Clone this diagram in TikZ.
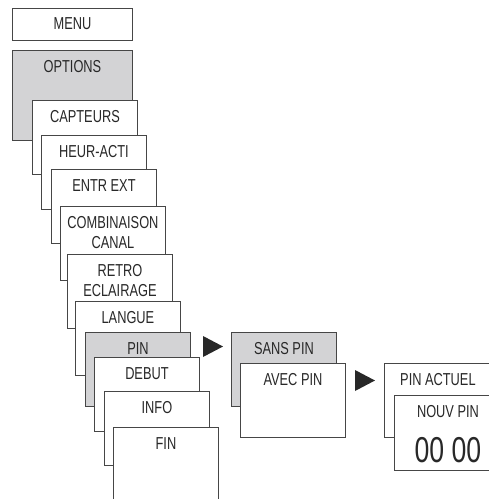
\documentclass[tikz,border=0pt]{standalone}
\usepackage{fontspec}
\setmainfont{Liberation Sans}[FakeStretch=0.74]
\usepackage{tikz}

\definecolor{menugray}{RGB}{211,211,213}
\definecolor{menuline}{RGB}{70,70,70}
\definecolor{menutext}{RGB}{40,40,40}

\begin{document}
\begin{tikzpicture}[
    x=1pt, y=-1pt,
    menubox/.style={draw=menuline, line width=0.9pt, fill=white, anchor=north west,
        minimum width=105pt, minimum height=74pt, inner sep=0pt},
    selbox/.style={menubox, fill=menugray},
    caption/.style={anchor=north, inner sep=0pt, yshift=-10.5pt, align=center,
        text=menutext, font=\fontsize{17.3}{20}\selectfont},
    bigdigits/.style={anchor=north, inner sep=0pt, yshift=-42pt,
        text=menutext, font=\fontsize{36}{40}\selectfont}
]
    \useasboundingbox (0,0) rectangle (489,499);
    \clip (0,0) rectangle (489,499);

    % main menu stack
    \node[menubox, minimum width=120pt, minimum height=32pt,
        label={[caption, yshift=1pt]north:MENU}] (menu) at (12,8) {};
    \node[selbox, minimum width=120pt, minimum height=90pt,
        label={[caption]north:OPTIONS}] (options) at (12,50) {};
    \node[menubox, label={[caption]north:CAPTEURS}] (capteurs) at (32,100) {};
    \node[menubox, label={[caption]north:HEUR-ACTI}] (heuracti) at (41,135) {};
    \node[menubox, label={[caption]north:ENTR EXT}] (entrext) at (51,169) {};
    \node[menubox, label={[caption]north:COMBINAISON\\CANAL}] (combi) at (60,206) {};
    \node[menubox, label={[caption]north:RETRO\\ECLAIRAGE}] (retro) at (67,254) {};
    \node[menubox, label={[caption]north:LANGUE}] (langue) at (75,301) {};
    \node[selbox, label={[caption]north:PIN}] (pin) at (85,332) {};
    \node[menubox, label={[caption]north:DEBUT}] (debut) at (94,357) {};
    \node[menubox, label={[caption]north:INFO}] (info) at (104,391) {};
    \node[menubox, minimum height=110pt, label={[caption]north:FIN}] (fin) at (113,427) {};

    % PIN submenu
    \fill[menutext] (203,336) -- (223,346.5) -- (203,357) -- cycle;
    \node[selbox, label={[caption]north:SANS PIN}] (sanspin) at (231,332) {};
    \node[menubox, label={[caption]north:AVEC PIN}] (avecpin) at (240,363) {};

    % AVEC PIN submenu
    \fill[menutext] (355,370) -- (375,380.5) -- (355,391) -- cycle;
    \node[menubox, minimum width=107pt, label={[caption]north:PIN ACTUEL}] (pinactuel) at (384,363) {};
    \node[menubox, minimum width=107pt, minimum height=75pt,
        label={[caption]north:NOUV PIN},
        label={[bigdigits]north:00 00}] (nouvpin) at (394,395) {};
\end{tikzpicture}
\end{document}
